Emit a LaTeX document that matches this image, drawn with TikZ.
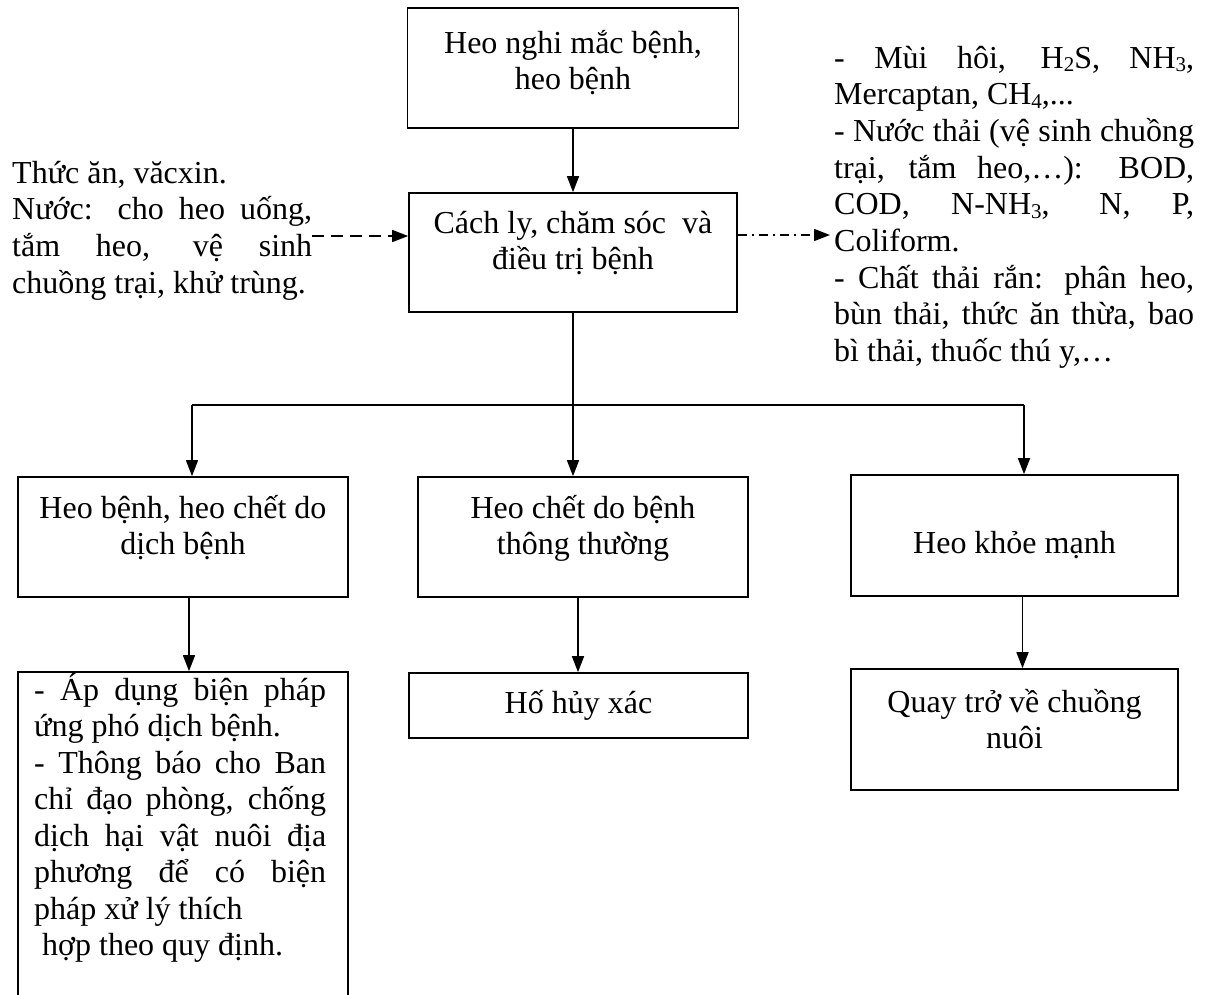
\documentclass[tikz,border=0pt]{standalone}
\usepackage{fontspec}
\setmainfont{Liberation Serif}
\usetikzlibrary{arrows.meta}
\newcommand{\ctext}[2]{\vtop{\hsize=#1pt\parindent=0pt\baselineskip=36.5pt\centering #2\par}}
\newcommand{\jl}[1]{\makebox[\hsize][s]{#1}\par}
\newcommand{\nl}[1]{\makebox[\hsize][l]{#1}\par}
\newcommand{\sbs}[1]{\raisebox{-3.5pt}{\fontsize{21}{21}\selectfont #1}}
\begin{document}
\begin{tikzpicture}[x=1pt,y=-1pt,
  every node/.style={font=\fontsize{32}{36.5}\selectfont, inner sep=0pt},
  box/.style={draw, line width=1.7pt, rectangle, inner sep=0pt},
  txt/.style={anchor=base},
  blk/.style={anchor=base west},
  arr/.style={line width=1.6pt, -{Triangle[length=16pt,width=12pt]}},
  line/.style={line width=1.6pt},
  dasharr/.style={arr, dash pattern=on 12pt off 7pt},
  dotarr/.style={arr, dash pattern=on 9pt off 5pt on 2pt off 5pt}]
\useasboundingbox (0,0) rectangle (1205,994);
\clip (0,0) rectangle (1205,994);
\fill[white] (0,0) rectangle (1205,994);

% boxes
\node[box, minimum width=331pt, minimum height=120pt] (top) at (573,68) {};
\node[box, minimum width=328pt, minimum height=119pt] (mid) at (573,252.5) {};
\node[box, minimum width=330pt, minimum height=120pt] (L1) at (183,537) {};
\node[box, minimum width=330pt, minimum height=120pt] (M1) at (583,537) {};
\node[box, minimum width=327pt, minimum height=121pt] (R1) at (1014.5,535.5) {};
\node[box, minimum width=330pt, minimum height=340pt] (L2) at (183,842) {};
\node[box, minimum width=339pt, minimum height=65pt] (M2) at (578.5,705.5) {};
\node[box, minimum width=327pt, minimum height=121pt] (R2) at (1014.5,729.5) {};

% box texts
\node[txt] (topT) at (573,53) {\ctext{330}{Heo nghi mắc bệnh,\par heo bệnh}};
\node[txt] (midT) at (573,233) {\ctext{328}{Cách ly, chăm sóc\ \ và\par điều trị bệnh}};
\node[txt] (L1T) at (183,518) {\ctext{330}{Heo bệnh, heo chết do\par dịch bệnh}};
\node[txt] (M1T) at (583,518) {\ctext{330}{Heo chết do bệnh\par thông thường}};
\node[txt] (R1T) at (1014.5,553) {\ctext{327}{Heo khỏe mạnh}};
\node[txt] (M2T) at (578.5,713) {\ctext{339}{Hố hủy xác}};
\node[txt] (R2T) at (1014.5,712) {\ctext{327}{Quay trở về chuồng\par nuôi}};

% left input text
\node[blk] (inT) at (12,183) {\vtop{\hsize=300pt\parindent=0pt\baselineskip=36.7pt
\nl{Thức ăn, văcxin.}
\jl{Nước: cho heo uống,}
\jl{tắm heo, vệ sinh}
\nl{chuồng trại, khử trùng.}}};

% right output text
\node[blk] (outT) at (834,68) {\vtop{\hsize=360pt\parindent=0pt\baselineskip=36.7pt
\jl{- Mùi hôi, H\sbs{2}S, NH\sbs{3},}
\nl{Mercaptan, CH\sbs{4},...}
\jl{- Nước thải (vệ sinh chuồng}
\jl{trại, tắm heo,…): BOD,}
\jl{COD, N-NH\sbs{3}, N, P,}
\nl{Coliform.}
\jl{- Chất thải rắn: phân heo,}
\jl{bùn thải, thức ăn thừa, bao}
\nl{bì thải, thuốc thú y,…}}};

% bottom-left text
\node[blk] (L2T) at (34,700) {\vtop{\hsize=292pt\parindent=0pt\baselineskip=36.5pt
\jl{- Áp dụng biện pháp}
\nl{ứng phó dịch bệnh.}
\jl{- Thông báo cho Ban}
\jl{chỉ đạo phòng, chống}
\jl{dịch hại vật nuôi địa}
\jl{phương để có biện}
\nl{pháp xử lý thích}
\nl{\hspace{8pt}hợp theo quy định.}}};

% connectors
\draw[arr] (top.south) -- (mid.north);
\draw[arr] (mid.south) -- (mid.south |- M1.north);
\coordinate (hl) at (192,405);
\coordinate (hr) at (1024,405);
\draw[line] (hl) -- (hr);
\draw[arr] (hl) -- (hl |- L1.north);
\draw[arr] (hr) -- (hr |- R1.north);
\coordinate (a1) at ([xshift=6pt]L1.south);
\draw[arr] (a1) -- (a1 |- L2.north);
\coordinate (a2) at ([xshift=-5pt]M1.south);
\draw[arr] (a2) -- (a2 |- M2.north);
\coordinate (a3) at ([xshift=8pt]R1.south);
\draw[arr] (a3) -- (a3 |- R2.north);
\coordinate (inE) at (312,236);
\draw[dasharr] (inE) -- (inE -| mid.west);
\coordinate (outW) at (830,235);
\draw[dotarr] (outW -| mid.east) -- (outW);
\end{tikzpicture}
\end{document}
